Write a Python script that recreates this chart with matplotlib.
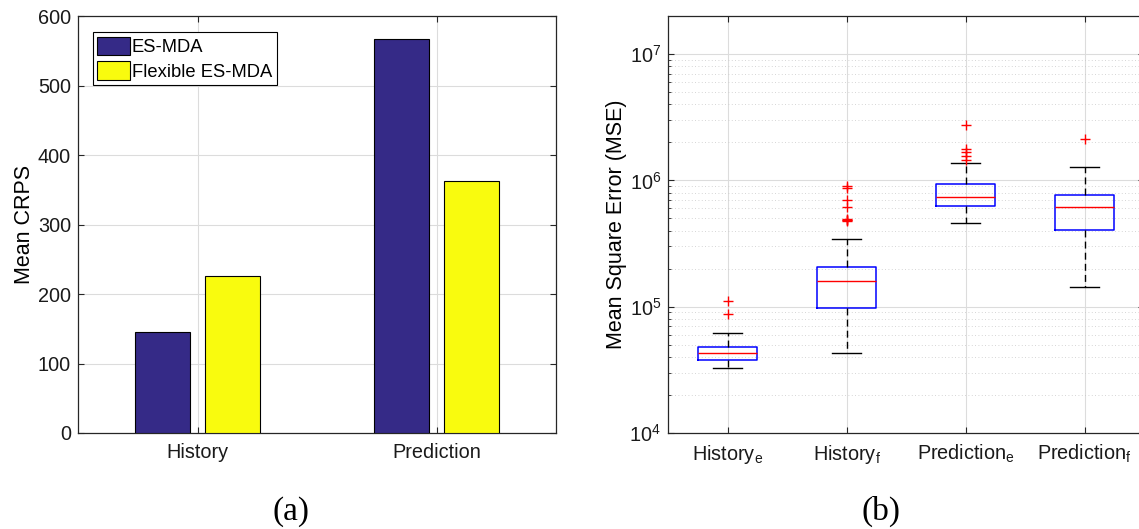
import matplotlib
matplotlib.use("Agg")
import matplotlib.pyplot as plt
import numpy as np
from matplotlib.patches import Patch
from matplotlib.ticker import LogLocator, NullFormatter

plt.rcParams['font.family'] = ['Liberation Sans', 'DejaVu Sans']
plt.rcParams['mathtext.default'] = 'regular'

# Mean CRPS per period
periods = ["History", "Prediction"]
crps_esmda = [146, 567]
crps_flex = [226, 363]
series_names = ["ES-MDA", "Flexible ES-MDA"]
bar_colors = ["#352a87", "#f9fb0e"]

# MSE box statistics (log scale)
box_labels = ["History$_{e}$", "History$_{f}$", "Prediction$_{e}$", "Prediction$_{f}$"]
whislo = [33000, 43000, 464000, 142000]
q1 = [37500, 98000, 633000, 404000]
med = [42800, 159000, 736000, 611000]
q3 = [48100, 207000, 935000, 760000]
whishi = [61400, 344000, 1365000, 1280000]
outliers = [
    [88000, 110000],
    [479000, 485000, 490000, 497000, 611000, 706000, 865000, 906000],
    [1440000, 1550000, 1670000, 1770000, 2740000],
    [2140000],
]

fig = plt.figure(figsize=(11.39, 5.29), dpi=100)
ax1 = fig.add_axes([0.0685, 0.1815, 0.4197, 0.788])
ax2 = fig.add_axes([0.5865, 0.1815, 0.418, 0.788])

grid_col = "#dcdcdc"
spine_col = "#262626"
tick_fs = 14.3
label_fs = 15.5

# ---- (a) bar chart
x = np.arange(1, len(periods) + 1)
off, w = 0.145, 0.23
ax1.bar(x - off, crps_esmda, w, color=bar_colors[0], edgecolor="black",
        linewidth=0.8, zorder=3)
ax1.bar(x + off, crps_flex, w, color=bar_colors[1], edgecolor="black",
        linewidth=0.8, zorder=3)
ax1.set_xlim(0.5, 2.5)
ax1.set_ylim(0, 600)
ax1.set_xticks(x)
ax1.set_xticklabels(periods)
ax1.set_yticks(np.arange(0, 601, 100))
ax1.set_ylabel("Mean CRPS", fontsize=label_fs, labelpad=2)
ax1.grid(True, color=grid_col, linewidth=0.8, zorder=0)
ax1.set_axisbelow(True)
handles = [Patch(facecolor=c, edgecolor="black", linewidth=0.8) for c in bar_colors]
leg = ax1.legend(handles, series_names, loc="upper left", fontsize=13.2,
                 bbox_to_anchor=(0.031, 0.962), handlelength=1.75, handleheight=1.2,
                 handletextpad=0.12, borderpad=0.25, labelspacing=0.28,
                 fancybox=False, edgecolor="black", framealpha=1,
                 borderaxespad=0.0)
leg.get_frame().set_linewidth(0.8)

# ---- (b) box plot
stats = []
for i in range(len(box_labels)):
    stats.append(dict(whislo=whislo[i], q1=q1[i], med=med[i], q3=q3[i],
                      whishi=whishi[i], fliers=outliers[i], label=box_labels[i]))
pos = np.arange(1, len(box_labels) + 1)
ax2.bxp(stats, positions=pos, widths=0.5, showfliers=True,
        boxprops=dict(color="blue", linewidth=1.1),
        medianprops=dict(color="red", linewidth=1.0),
        whiskerprops=dict(color="black", linewidth=1.0, linestyle=(0, (5, 3))),
        capprops=dict(color="black", linewidth=1.0),
        capwidths=0.25,
        flierprops=dict(marker="+", markeredgecolor="red", markersize=7,
                        markeredgewidth=1.0, linestyle="none"))
ax2.set_yscale("log")
ax2.set_ylim(1e4, 2e7)
ax2.set_xlim(0.5, 4.5)
ax2.set_xticks(pos)
ax2.set_xticklabels(box_labels)
ax2.yaxis.set_major_locator(LogLocator(base=10, numticks=10))
ax2.yaxis.set_minor_locator(LogLocator(base=10, subs=np.arange(2, 10), numticks=20))
ax2.yaxis.set_minor_formatter(NullFormatter())
ax2.set_ylabel("Mean Square Error (MSE)", fontsize=label_fs, labelpad=2)
ax2.grid(True, which="major", color=grid_col, linewidth=0.8, zorder=0)
ax2.grid(True, which="minor", axis="y", color="#c8c8c8", linewidth=0.6,
         linestyle=(0, (1, 3)), zorder=0)
ax2.set_axisbelow(True)

for ax in (ax1, ax2):
    for s in ax.spines.values():
        s.set_color(spine_col)
        s.set_linewidth(0.9)
    ax.tick_params(which="both", direction="in", top=True, right=True,
                   color=spine_col, labelsize=tick_fs, labelcolor="#1a1a1a")
    ax.tick_params(which="major", length=4.5, width=0.8)
    ax.tick_params(which="minor", length=2.5, width=0.6)
    ax.tick_params(axis="x", pad=7)
    ax.tick_params(axis="y", pad=5)

fig.text(0.2555, 0.018, "(a)", fontsize=24, family="Liberation Serif", ha="center")
fig.text(0.7735, 0.018, "(b)", fontsize=24, family="Liberation Serif", ha="center")

fig.savefig("out.png", dpi=100)
